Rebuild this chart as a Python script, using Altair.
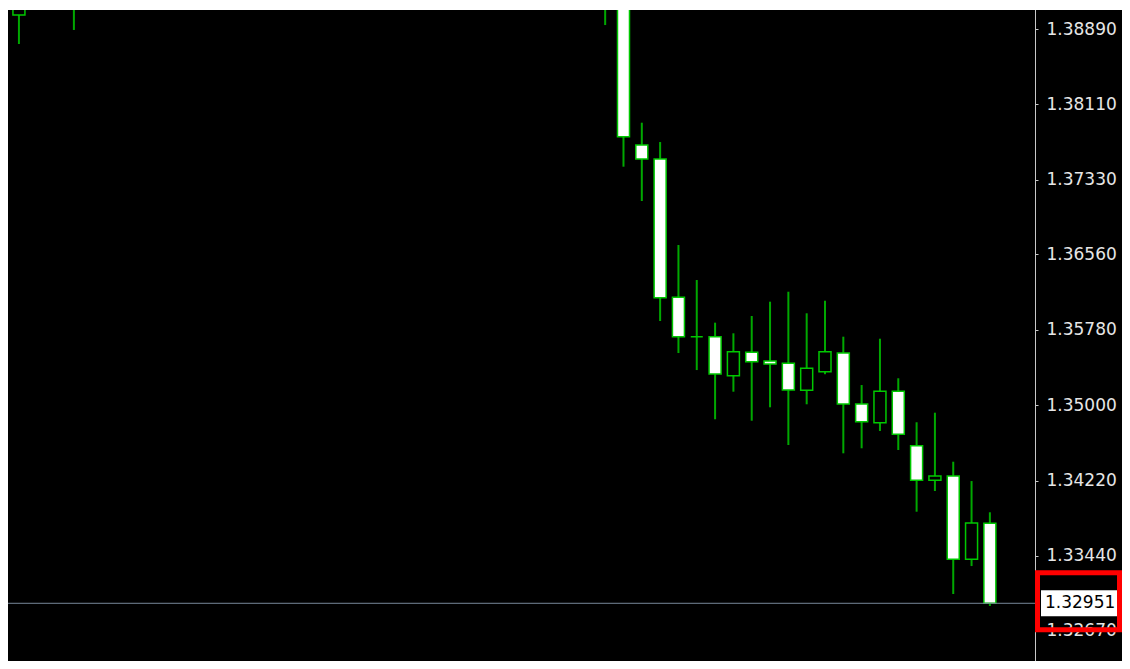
import altair as alt
import pandas as pd

# candle index (bar number on the chart), only bars that are visible in the picture
idx    = [0, 3, 32, 33, 34, 35, 36, 37, 38, 39, 40, 41, 42, 43, 44, 45, 46, 47, 48, 49, 50, 51, 52, 53]
opens  = [1.39035, 1.39250, 1.39300, 1.39180, 1.37690, 1.37546, 1.36115, 1.35708, 1.35708, 1.35304,
          1.35546, 1.35456, 1.35433, 1.35153, 1.35346, 1.35539, 1.35012, 1.34818, 1.35143, 1.34580,
          1.34223, 1.34267, 1.33406, 1.33778]
highs  = [1.39300, 1.39300, 1.39400, 1.39220, 1.37921, 1.37721, 1.36656, 1.36294, 1.35853, 1.35743,
          1.35922, 1.36070, 1.36173, 1.35950, 1.36080, 1.35708, 1.35208, 1.35687, 1.35278, 1.34823,
          1.34922, 1.34415, 1.34215, 1.33892]
lows   = [1.38735, 1.38880, 1.38931, 1.37466, 1.37111, 1.35870, 1.35539, 1.35363, 1.34854, 1.35139,
          1.34839, 1.34978, 1.34588, 1.35009, 1.35320, 1.34502, 1.34554, 1.34733, 1.34536, 1.33898,
          1.34112, 1.33047, 1.33336, 1.32923]
closes = [1.39240, 1.39180, 1.39180, 1.37776, 1.37546, 1.36111, 1.35708, 1.35708, 1.35322, 1.35553,
          1.35449, 1.35425, 1.35157, 1.35381, 1.35553, 1.35012, 1.34829, 1.35143, 1.34698, 1.34223,
          1.34267, 1.33406, 1.33781, 1.32951]

tick_values = [1.38890, 1.38110, 1.37330, 1.36560, 1.35780, 1.35000, 1.34220, 1.33440, 1.32670]
bid_price = 1.32951
bid_label = "1.32951"

df = pd.DataFrame({"i": idx, "open": opens, "high": highs, "low": lows, "close": closes})
df["dir"] = ["bear" if c < o else "bull" for o, c in zip(opens, closes)]

W, H, PR = 1027, 653, 87
Y_TOP, Y_BOT = 1.391072, 1.323541
xs = alt.Scale(domain=[-0.324, 55.19], nice=False, zero=False)
ys = alt.Scale(domain=[Y_BOT, Y_TOP], nice=False, zero=False)

WICK = "#00a800"
EDGE = "#00c800"

yaxis = alt.Axis(orient="right", values=tick_values, format=".5f", title=None, grid=False,
                 labelColor="#e6e6e6", labelFont="DejaVu Sans", labelFontSize=17,
                 domainColor="#c8c8c8", domainWidth=1, tickColor="#c8c8c8", tickSize=3,
                 labelPadding=8, labelFlush=False, labelOverlap=False, zindex=0)

base = alt.Chart(df)

wicks = base.mark_rule(clip=True, strokeWidth=2, color=WICK).encode(
    x=alt.X("i:Q", scale=xs, axis=None),
    y=alt.Y("low:Q", scale=ys, axis=yaxis),
    y2="high:Q",
)

bodies = base.mark_bar(clip=True, width=12, stroke=EDGE, strokeWidth=1.5).encode(
    x=alt.X("i:Q", scale=xs, axis=None),
    y=alt.Y("open:Q", scale=ys),
    y2="close:Q",
    fill=alt.Fill("dir:N", scale=alt.Scale(domain=["bear", "bull"], range=["white", "black"]), legend=None),
)

bid_df = pd.DataFrame({"p": [bid_price], "label": [bid_label]})
k = (Y_TOP - Y_BOT) / H  # price per pixel
bid_df["box_top"] = bid_df["p"] + 13 * k
bid_df["box_bot"] = bid_df["p"] - 13 * k
bid_df["red_top"] = bid_df["p"] + 30.5 * k
bid_df["red_bot"] = bid_df["p"] - 26.5 * k

bid_line = alt.Chart(bid_df).mark_rule(color="#778899", strokeWidth=1).encode(
    y=alt.Y("p:Q", scale=ys)
)

label_box = alt.Chart(bid_df).mark_rect(fill="white", clip=False).encode(
    x=alt.value(W + 6), x2=alt.value(W + 82),
    y=alt.Y("box_top:Q", scale=ys), y2="box_bot:Q",
)

label_text = alt.Chart(bid_df).mark_text(align="left", baseline="middle", color="black",
                                         font="DejaVu Sans", fontSize=17, clip=False).encode(
    x=alt.value(W + 10),
    y=alt.Y("p:Q", scale=ys),
    text="label:N",
)

red_box = alt.Chart(bid_df).mark_rect(fill="transparent", stroke="#ff0000", strokeWidth=5, clip=False).encode(
    x=alt.value(W + 2.5), x2=alt.value(W + PR - 2.5),
    y=alt.Y("red_top:Q", scale=ys), y2="red_bot:Q",
)

top_strip = alt.Chart(bid_df).mark_rect(fill="white", clip=False).encode(
    x=alt.value(0), x2=alt.value(W + PR), y=alt.value(0), y2=alt.value(2)
)

chart = alt.layer(wicks, bodies, bid_line, label_box, label_text, red_box, top_strip).properties(
    width=W, height=H,
    padding={"left": 0, "top": 0, "right": PR, "bottom": 0},
    autosize=alt.AutoSizeParams(type="none"),
    background="black",
).configure_view(stroke=None)

chart.save("out.html", embed_options={"renderer": "svg", "actions": False})
